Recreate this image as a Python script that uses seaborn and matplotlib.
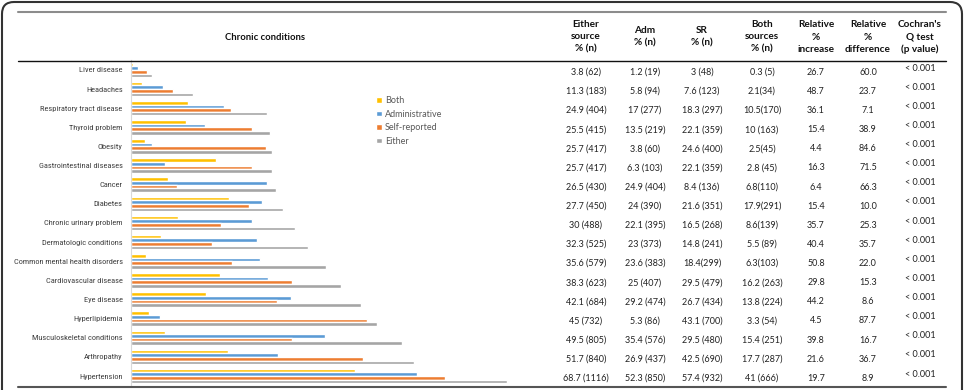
# Chronic conditions: bar chart next to a prevalence table
import numpy as np
import pandas as pd
import matplotlib.pyplot as plt
import seaborn as sns
from matplotlib import font_manager
from matplotlib.patches import FancyBboxPatch
from matplotlib.lines import Line2D
from matplotlib.transforms import blended_transform_factory

# data
conditions = ["Liver disease", "Headaches", "Respiratory tract disease", "Thyroid problem",
              "Obesity", "Gastrointestinal diseases", "Cancer", "Diabetes",
              "Chronic urinary problem", "Dermatologic conditions",
              "Common mental health disorders", "Cardiovascular disease", "Eye disease",
              "Hyperlipidemia", "Musculoskeletal conditions", "Arthropathy", "Hypertension"]

# bar lengths as drawn in the chart (%)
both_bar = [0.3, 2.1, 10.5, 10, 2.5, 15.6, 6.8, 17.9, 8.6, 5.5, 2.7, 16.2, 13.8, 3.3, 6.2, 17.7, 41]
adm_bar = [1.2, 5.8, 17, 13.5, 3.8, 6.3, 24.9, 24, 22.1, 23, 23.6, 25, 29.2, 5.3, 35.4, 26.9, 52.3]
sr_bar = [3, 7.6, 18.3, 22.1, 24.6, 22.1, 8.4, 21.6, 16.5, 14.8, 18.4, 29.5, 26.7, 43.1, 29.5, 42.5, 57.4]
either_bar = [3.8, 11.3, 24.9, 25.5, 25.7, 25.7, 26.5, 27.7, 30, 32.3, 35.6, 38.3, 42.1, 45, 49.5, 51.7, 68.7]

# table columns
either_txt = ["3.8 (62)", "11.3 (183)", "24.9 (404)", "25.5 (415)", "25.7 (417)", "25.7 (417)",
              "26.5 (430)", "27.7 (450)", "30 (488)", "32.3 (525)", "35.6 (579)", "38.3 (623)",
              "42.1 (684)", "45 (732)", "49.5 (805)", "51.7 (840)", "68.7 (1116)"]
adm_txt = ["1.2 (19)", "5.8 (94)", "17 (277)", "13.5 (219)", "3.8 (60)", "6.3 (103)",
           "24.9 (404)", "24 (390)", "22.1 (395)", "23 (373)", "23.6 (383)", "25 (407)",
           "29.2 (474)", "5.3 (86)", "35.4 (576)", "26.9 (437)", "52.3 (850)"]
sr_txt = ["3 (48)", "7.6 (123)", "18.3 (297)", "22.1 (359)", "24.6 (400)", "22.1 (359)",
          "8.4 (136)", "21.6 (351)", "16.5 (268)", "14.8 (241)", "18.4(299)", "29.5 (479)",
          "26.7 (434)", "43.1 (700)", "29.5 (480)", "42.5 (690)", "57.4 (932)"]
both_txt = ["0.3 (5)", "2.1(34)", "10.5(170)", "10 (163)", "2.5(45)", "2.8 (45)", "6.8(110)",
            "17.9(291)", "8.6(139)", "5.5 (89)", "6.3(103)", "16.2 (263)", "13.8 (224)",
            "3.3 (54)", "15.4 (251)", "17.7 (287)", "41 (666)"]
rel_increase = ["26.7", "48.7", "36.1", "15.4", "4.4", "16.3", "6.4", "15.4", "35.7", "40.4",
                "50.8", "29.8", "44.2", "4.5", "39.8", "21.6", "19.7"]
rel_difference = ["60.0", "23.7", "7.1", "38.9", "84.6", "71.5", "66.3", "10.0", "25.3", "35.7",
                  "22.0", "15.3", "8.6", "87.7", "16.7", "36.7", "8.9"]
cochran = ["< 0.001"] * len(conditions)

col_headers = ["Either\nsource\n% (n)", "Adm\n% (n)", "SR\n% (n)", "Both\nsources\n% (n)",
               "Relative\n%\nincrease", "Relative\n%\ndifference", "Cochran's\nQ test\n(p value)"]

series = ["Both", "Administrative", "Self-reported", "Either"]
colors = ["#FFC000", "#5B9BD5", "#ED7D31", "#A5A5A5"]

df = pd.DataFrame({
    "Condition": conditions * 4,
    "Source": np.repeat(series, len(conditions)),
    "Percent": both_bar + adm_bar + sr_bar + either_bar,
})

sns.set_style("white")
plt.rcParams["font.family"] = ["Lato", "DejaVu Sans"]


def first_font(names):
    for n in names:
        try:
            font_manager.findfont(n, fallback_to_default=False)
            return n
        except ValueError:
            pass
    return None


# the chart labels are in a narrow Arial; use a condensed face if there is one
narrow = first_font(["Liberation Sans Narrow", "DejaVu Sans Condensed", "Roboto Condensed"])
if narrow:
    label_font, label_size = narrow, 6
else:
    label_font, label_size = "Liberation Sans", 5.1

W, H = 979, 390
fig = plt.figure(figsize=(W / 100, H / 100), dpi=100)

# chart area
top, bottom = 60.4, 385.6
ax = fig.add_axes([131 / W, 1 - bottom / H, (560 - 131) / W, (bottom - top) / H])
sns.barplot(data=df, y="Condition", x="Percent", hue="Source", hue_order=series,
            order=conditions, palette=colors, orient="h", width=0.76, saturation=1,
            ax=ax)

ax.set_xlim(0, 429 / 5.47)
ax.set_ylim(len(conditions) - 0.5, -0.5)
ax.set_xticks([])
ax.set_xlabel("")
ax.set_ylabel("")
for s in ["top", "right", "bottom"]:
    ax.spines[s].set_visible(False)
ax.spines["left"].set_color("#d9d9d9")
ax.spines["left"].set_linewidth(0.8)
ax.set_yticks(range(len(conditions)))
ax.set_yticklabels(conditions, fontsize=label_size, color="#404040",
                   fontfamily=[label_font, "DejaVu Sans"])
ax.tick_params(axis="y", which="major", length=0, pad=6)
ax.set_yticks(np.arange(-0.5, len(conditions), 1), minor=True)
ax.tick_params(axis="y", which="minor", length=3, color="#d9d9d9", width=0.8)

handles, labels = ax.get_legend_handles_labels()
ax.legend(handles, labels, loc="upper left", bbox_to_anchor=(368 / W, 1 - 88 / H),
          bbox_transform=fig.transFigure, frameon=False, fontsize=6.5,
          handlelength=0.6, handleheight=0.6, handletextpad=0.4, labelspacing=0.5,
          labelcolor="#595959")

# table
col_x = [586, 645, 702, 762, 816, 868, 920]
columns = [either_txt, adm_txt, sr_txt, both_txt, rel_increase, rel_difference, cochran]
trans = blended_transform_factory(fig.transFigure, ax.transData)
for cx, col in zip(col_x, columns):
    off = -0.1 if col is cochran else 0.12
    for i, txt in enumerate(col):
        ax.text(cx / W, i + off, txt, transform=trans, ha="center", va="center",
                fontsize=6.5, color="#222222", clip_on=False)

for cx, head in zip(col_x, col_headers):
    fig.text(cx / W, 1 - 37 / H, head, ha="center", va="center", fontsize=7.2,
             fontweight="bold", linespacing=1.45, color="#111111")
fig.text(265 / W, 1 - 37 / H, "Chronic conditions", ha="center", va="center",
         fontsize=6.8, fontweight="bold", color="#111111")

# rules and frame
fig.add_artist(Line2D([18 / W, 946 / W], [1 - 12 / H] * 2, color="#8c8c8c", lw=1.5))
fig.add_artist(Line2D([18 / W, 946 / W], [1 - 61 / H] * 2, color="#111111", lw=1))
fig.add_artist(Line2D([18 / W, 946 / W], [1 - 387 / H] * 2, color="#555555", lw=1.5))
frame = FancyBboxPatch((0.02, -0.2), 9.6, 4.08, boxstyle="round,pad=0,rounding_size=0.12",
                       transform=fig.dpi_scale_trans, fill=False, ec="#333333", lw=1.5)
fig.add_artist(frame)

fig.savefig("out.png", dpi=100)
